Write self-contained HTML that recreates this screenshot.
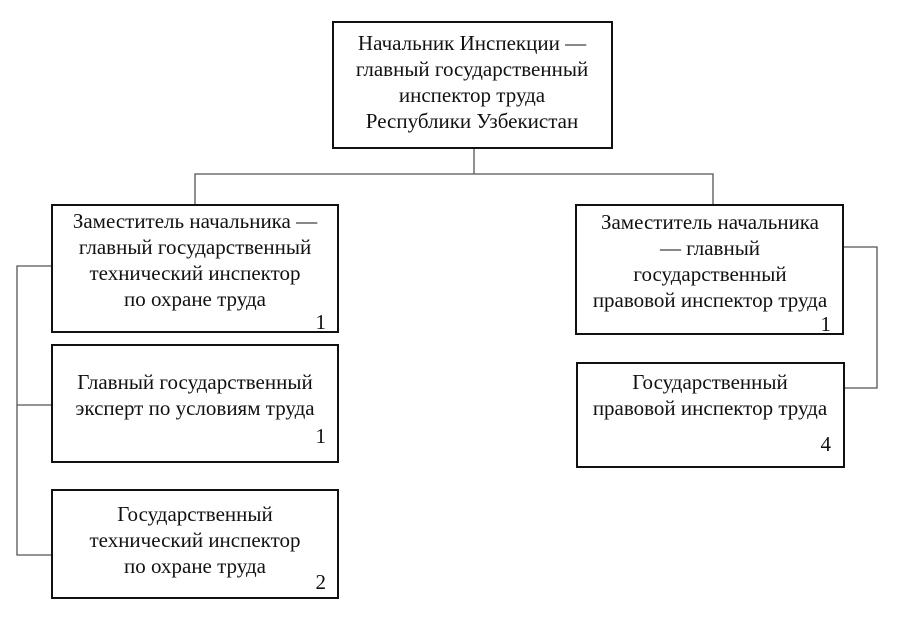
<!DOCTYPE html>
<html><head><meta charset="utf-8"><style>
html,body{margin:0;padding:0;background:#fff;width:900px;height:624px;overflow:hidden}
svg text{font-family:"Liberation Serif",serif;font-size:21px;fill:#111}
</style></head><body>
<svg width="900" height="624" viewBox="0 0 900 624" xmlns="http://www.w3.org/2000/svg">
<g fill="none" stroke="#555" stroke-width="1.3">
<path d="M474 148V174M195 205V174H713V205"/>
<path d="M52 266H17V555H52M17 405H52"/>
<path d="M843 247H877V388H844"/>
</g>
<g fill="#fff" stroke="#111" stroke-width="2">
<rect x="333" y="22" width="279" height="126"/>
<rect x="52" y="205" width="286" height="127"/>
<rect x="52" y="345" width="286" height="117"/>
<rect x="52" y="490" width="286" height="108"/>
<rect x="576" y="205" width="267" height="129"/>
<rect x="577" y="363" width="267" height="104"/>
</g>
<g text-anchor="middle">
<text x="472" y="50">Начальник Инспекции —</text>
<text x="472" y="76">главный государственный</text>
<text x="472" y="102">инспектор труда</text>
<text x="472" y="128">Республики Узбекистан</text>
<text x="195" y="228">Заместитель начальника —</text>
<text x="195" y="254">главный государственный</text>
<text x="195" y="280">технический инспектор</text>
<text x="195" y="306">по охране труда</text>
<text x="195" y="389">Главный государственный</text>
<text x="195" y="415">эксперт по условиям труда</text>
<text x="195" y="521">Государственный</text>
<text x="195" y="547">технический инспектор</text>
<text x="195" y="573">по охране труда</text>
<text x="710" y="229">Заместитель начальника</text>
<text x="710" y="255">— главный</text>
<text x="710" y="281">государственный</text>
<text x="710" y="307">правовой инспектор труда</text>
<text x="710" y="389">Государственный</text>
<text x="710" y="415">правовой инспектор труда</text>
</g>
<g text-anchor="end">
<text x="326" y="329">1</text>
<text x="326" y="443">1</text>
<text x="326" y="589">2</text>
<text x="831" y="331">1</text>
<text x="831" y="451">4</text>
</g>
</svg>
</body></html>
